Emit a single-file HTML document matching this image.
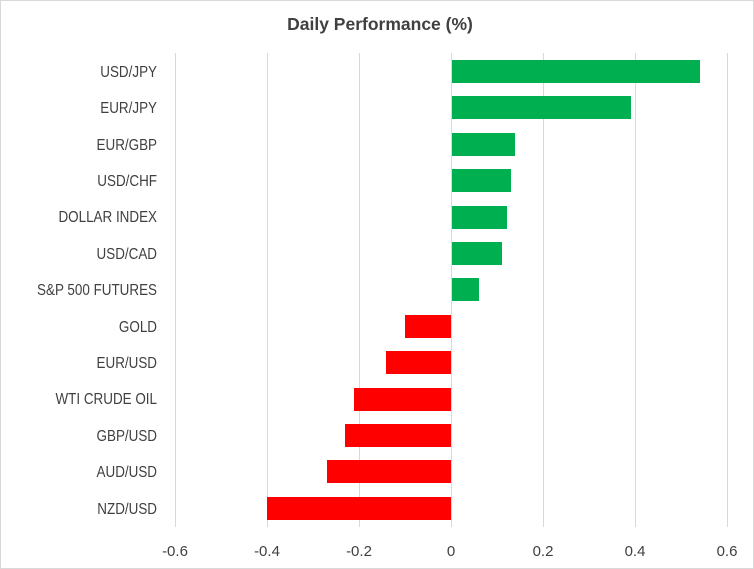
<!DOCTYPE html>
<html><head><meta charset="utf-8"><style>
body{margin:0;background:#fff;}
svg{display:block;font-family:"Liberation Sans",sans-serif;}
</style></head><body>
<svg width="754" height="569" viewBox="0 0 754 569" xmlns="http://www.w3.org/2000/svg">
<rect x="0.5" y="0.5" width="753" height="568" fill="#fff" stroke="#d9d9d9"/>
<text x="380" y="30" text-anchor="middle" font-size="17.5" font-weight="bold" fill="#404040">Daily Performance (%)</text>
<g stroke="#d9d9d9" stroke-width="1">
<line x1="175.5" y1="53" x2="175.5" y2="527"/>
<line x1="267.5" y1="53" x2="267.5" y2="527"/>
<line x1="359.5" y1="53" x2="359.5" y2="527"/>
<line x1="451.5" y1="53" x2="451.5" y2="527"/>
<line x1="543.5" y1="53" x2="543.5" y2="527"/>
<line x1="635.5" y1="53" x2="635.5" y2="527"/>
<line x1="727.5" y1="53" x2="727.5" y2="527"/>
</g>
<g fill="#00B050">
<rect x="452" y="60" width="248" height="23"/>
<rect x="452" y="96" width="179" height="23"/>
<rect x="452" y="133" width="63" height="23"/>
<rect x="452" y="169" width="59" height="23"/>
<rect x="452" y="206" width="55" height="23"/>
<rect x="452" y="242" width="50" height="23"/>
<rect x="452" y="278" width="27" height="23"/>
</g>
<g fill="#FF0000">
<rect x="405" y="315" width="46" height="23"/>
<rect x="386" y="351" width="65" height="23"/>
<rect x="354" y="388" width="97" height="23"/>
<rect x="345" y="424" width="106" height="23"/>
<rect x="327" y="460" width="124" height="23"/>
<rect x="267" y="497" width="184" height="23"/>
</g>
<g font-size="16" fill="#404040" text-anchor="end" transform="translate(157 0) scale(0.84 1) translate(-157 0)">
<text x="157" y="77">USD/JPY</text>
<text x="157" y="113">EUR/JPY</text>
<text x="157" y="150">EUR/GBP</text>
<text x="157" y="186">USD/CHF</text>
<text x="157" y="222">DOLLAR INDEX</text>
<text x="157" y="259">USD/CAD</text>
<text x="157" y="295">S&amp;P 500 FUTURES</text>
<text x="157" y="332">GOLD</text>
<text x="157" y="368">EUR/USD</text>
<text x="157" y="404">WTI CRUDE OIL</text>
<text x="157" y="441">GBP/USD</text>
<text x="157" y="477">AUD/USD</text>
<text x="157" y="514">NZD/USD</text>
</g>
<g font-size="15" fill="#404040" text-anchor="middle">
<text x="175" y="556">-0.6</text>
<text x="267" y="556">-0.4</text>
<text x="359" y="556">-0.2</text>
<text x="451" y="556">0</text>
<text x="543" y="556">0.2</text>
<text x="635" y="556">0.4</text>
<text x="727" y="556">0.6</text>
</g>
</svg>
</body></html>
